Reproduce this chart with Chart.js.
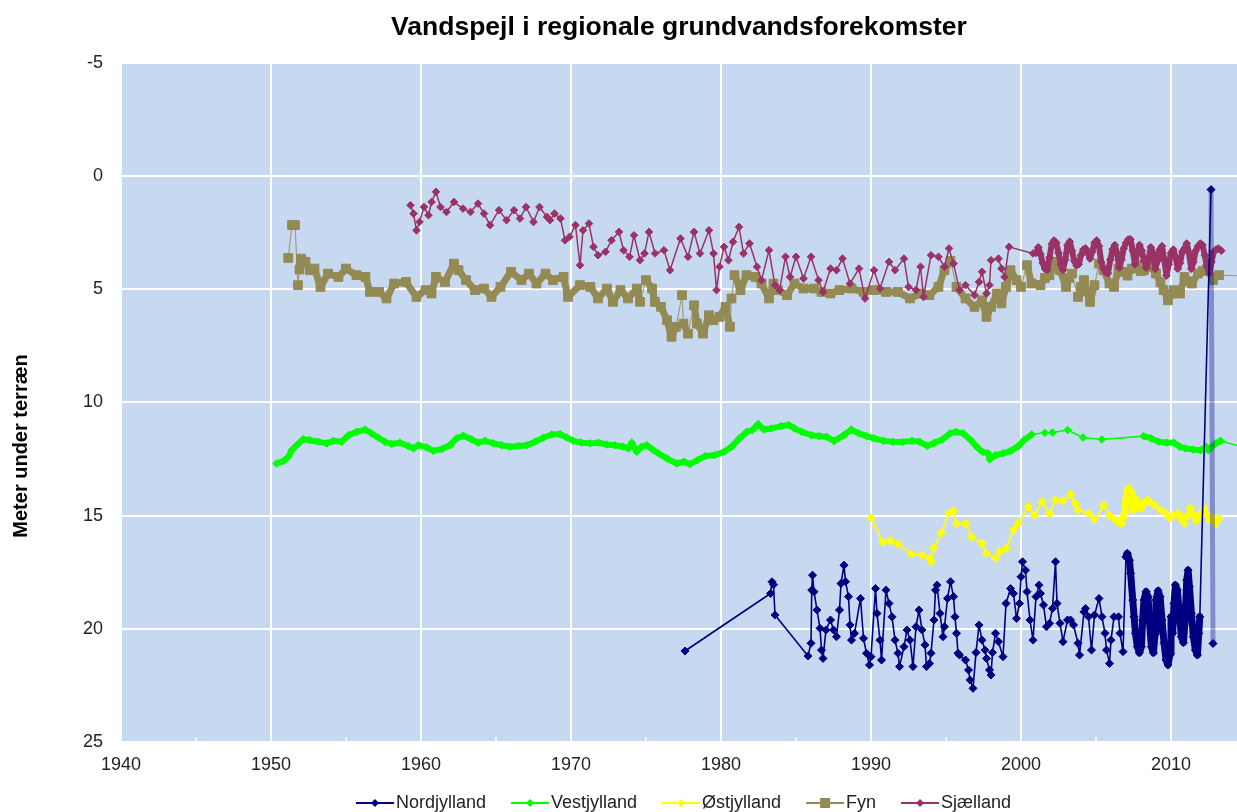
<!DOCTYPE html>
<html lang="da">
<head>
<meta charset="utf-8">
<title>Vandspejl i regionale grundvandsforekomster</title>
<script src="https://cdn.jsdelivr.net/npm/chart.js@4/dist/chart.umd.min.js"></script>
<style>
  html, body { margin: 0; padding: 0; background: #fff; overflow: hidden; }
  #wrap { width: 1237px; height: 812px; }
</style>
</head>
<body>
<div id="wrap"><canvas id="chart" width="1237" height="812"></canvas></div>
<script>
// Pejlinger: [år, meter under terræn]
const nordjylland = [
  [1977.6,20.98],[1983.3,18.44],[1983.4,17.92],[1983.5,18.05],[1983.6,19.39],[1985.8,21.20],[1986.0,20.64],[1986.05,18.29],
  [1986.1,17.63],[1986.2,18.36],[1986.4,19.17],[1986.6,19.98],[1986.7,20.94],[1986.8,21.31],[1987.0,20.05],[1987.3,19.61],
  [1987.5,20.05],[1987.7,20.35],[1987.9,19.17],[1988.0,18.00],[1988.2,17.19],[1988.3,17.92],[1988.5,18.58],[1988.6,19.83],
  [1988.7,20.50],[1988.9,20.20],[1989.3,18.66],[1989.5,20.42],[1989.7,21.08],[1989.9,21.60],[1990.0,21.23],[1990.3,18.22],
  [1990.4,19.32],[1990.6,20.50],[1990.7,21.38],[1991.0,18.29],[1991.2,18.88],[1991.4,19.47],[1991.6,20.50],[1991.8,21.08],
  [1991.9,21.67],[1992.2,20.79],[1992.4,20.05],[1992.6,20.50],[1992.8,21.67],[1993.0,19.91],[1993.2,19.17],[1993.4,20.05],
  [1993.6,20.71],[1993.7,21.67],[1993.9,21.53],[1994.0,21.08],[1994.2,19.61],[1994.3,18.29],[1994.4,18.07],[1994.6,19.32],
  [1994.8,20.35],[1994.9,19.91],[1995.1,18.66],[1995.3,17.92],[1995.5,18.58],[1995.6,19.47],[1995.7,20.20],[1995.8,21.08],
  [1995.9,21.16],[1996.3,21.38],[1996.5,21.82],[1996.6,22.26],[1996.8,22.63],[1997.0,21.05],[1997.2,19.83],[1997.4,20.50],
  [1997.6,20.94],[1997.7,21.31],[1997.9,21.82],[1998.0,22.04],[1998.1,21.05],[1998.3,20.20],[1998.5,20.57],[1998.8,21.23],
  [1999.0,18.88],[1999.3,18.22],[1999.5,18.44],[1999.7,19.54],[1999.9,18.88],[2000.0,17.70],[2000.1,17.04],[2000.3,17.41],
  [2000.4,18.36],[2000.6,19.61],[2000.8,20.50],[2001.0,18.58],[2001.2,18.07],[2001.3,18.44],[2001.5,18.95],[2001.7,19.91],
  [2001.9,19.76],[2002.1,19.10],[2002.3,17.04],[2002.4,18.88],[2002.6,19.76],[2002.8,20.57],[2003.1,19.61],[2003.3,19.61],
  [2003.5,19.83],[2003.8,20.64],[2003.9,21.16],[2004.2,19.25],[2004.3,19.10],[2004.5,19.47],[2004.7,20.94],[2004.9,19.39],
  [2005.2,18.66],[2005.4,19.47],[2005.6,20.20],[2005.7,20.94],[2005.9,21.53],[2006.0,20.50],[2006.2,19.47],[2006.5,19.47],
  [2006.6,20.20],[2006.8,21.01],
  [2007.00,16.82],[2007.09,16.67],[2007.23,16.97],[2007.31,17.55],[2007.45,18.73],[2007.54,19.47],[2007.63,20.20],[2007.76,20.79],
  [2007.89,21.06],[2008.03,20.79],[2008.11,19.61],[2008.20,18.73],[2008.34,18.36],[2008.47,18.58],[2008.56,19.61],[2008.69,20.79],
  [2008.83,21.06],[2008.94,20.20],[2009.00,18.73],[2009.14,18.32],[2009.27,18.58],[2009.40,19.61],[2009.54,20.64],[2009.67,21.38],
  [2009.80,21.60],[2009.94,21.09],[2010.00,19.47],[2010.11,20.20],[2010.20,18.88],[2010.29,18.07],[2010.42,18.29],[2010.56,19.32],
  [2010.69,20.35],[2010.83,20.61],[2010.94,19.61],[2011.05,17.85],[2011.14,17.41],[2011.23,18.14],[2011.36,19.32],[2011.49,20.35],
  [2011.63,20.94],[2011.76,21.16],[2011.85,20.20],[2011.92,19.47],[2012.67,0.60],[2012.80,20.65]
];

const vestjylland = [
  [1950.38,12.70],[1950.83,12.59],[1951.16,12.40],[1951.38,12.11],[1951.71,11.89],[1952.16,11.62],[1952.60,11.67],[1953.16,11.74],
  [1953.71,11.81],[1954.16,11.70],[1954.71,11.74],[1955.16,11.45],[1955.71,11.30],[1956.27,11.20],[1956.71,11.37],[1957.16,11.56],
  [1957.60,11.74],[1958.05,11.84],[1958.60,11.78],[1959.16,11.93],[1959.49,12.03],[1959.82,11.89],[1960.38,11.99],[1960.82,12.14],
  [1961.38,12.06],[1961.93,11.89],[1962.38,11.59],[1962.82,11.47],[1963.38,11.64],[1963.82,11.78],[1964.27,11.70],[1964.82,11.81],
  [1965.38,11.89],[1965.93,11.96],[1966.49,11.93],[1967.05,11.89],[1967.60,11.74],[1968.16,11.56],[1968.71,11.42],[1969.27,11.40],
  [1969.71,11.55],[1970.16,11.70],[1970.71,11.78],[1971.27,11.81],[1971.82,11.78],[1972.38,11.86],[1972.93,11.89],[1973.49,11.96],
  [1973.82,12.03],[1974.05,11.78],[1974.38,12.18],[1974.71,11.96],[1975.05,11.89],[1975.49,12.11],[1975.82,12.25],[1976.41,12.48],
  [1977.04,12.70],[1977.54,12.62],[1977.92,12.73],[1978.43,12.55],[1978.94,12.37],[1979.57,12.33],[1980.20,12.18],[1980.71,11.96],
  [1981.22,11.59],[1981.72,11.30],[1982.10,11.22],[1982.48,10.96],[1982.86,11.20],[1983.37,11.15],[1984.00,11.05],[1984.51,11.00],
  [1984.89,11.15],[1985.39,11.30],[1986.03,11.45],[1986.53,11.49],[1987.04,11.52],[1987.54,11.71],[1988.18,11.45],[1988.68,11.20],
  [1989.19,11.37],[1989.70,11.49],[1990.20,11.59],[1990.84,11.70],[1991.47,11.74],[1992.10,11.75],[1992.73,11.70],[1993.24,11.74],
  [1993.75,11.92],[1994.25,11.78],[1994.76,11.64],[1995.27,11.37],[1995.65,11.30],[1996.15,11.37],[1996.66,11.67],[1997.04,11.96],
  [1997.42,12.18],[1997.80,12.25],[1997.92,12.52],[1998.30,12.33],[1998.81,12.25],[1999.32,12.14],[1999.82,11.93],[2000.20,11.67],
  [2000.71,11.42],[2001.59,11.34],[2002.10,11.33],[2003.11,11.22],[2004.13,11.55],[2005.39,11.64],[2008.18,11.49],[2008.68,11.59],
  [2009.19,11.74],[2009.70,11.78],[2010.20,11.78],[2010.58,11.96],[2010.96,12.03],[2011.47,12.08],[2011.97,12.11],[2012.35,11.96],
  [2012.48,12.11],[2012.99,11.81],[2013.30,11.70],[2016.00,12.20]
];

const oestjylland = [
  [1990.0,15.10],[1990.8,16.18],[1991.3,16.11],[1991.8,16.26],[1992.7,16.70],[1993.4,16.74],[1993.9,16.89],[1994.0,17.04],
  [1994.2,16.42],[1994.7,15.76],[1995.2,14.88],[1995.5,14.79],[1995.7,15.35],[1996.3,15.35],[1996.7,15.94],[1997.4,16.23],
  [1997.7,16.67],[1998.3,16.89],[1998.6,16.60],[1999.0,16.45],[1999.5,15.64],[1999.8,15.35],[2000.5,14.61],[2000.9,14.98],
  [2001.4,14.39],[2001.9,14.90],[2002.3,14.32],[2002.8,14.35],[2003.3,14.07],[2003.6,14.46],[2003.8,14.76],[2004.5,14.90],
  [2004.9,15.17],[2005.5,14.54],[2005.9,14.98],[2006.3,15.20],[2006.5,15.30],[2006.7,15.35],[2006.8,15.10],[2006.9,14.90],
  [2007.0,14.30],[2007.1,13.85],[2007.2,13.80],[2007.3,13.95],[2007.4,14.02],[2007.5,14.76],[2007.6,14.50],[2007.7,14.32],
  [2007.8,14.55],[2007.9,14.60],[2008.0,14.68],[2008.2,14.45],[2008.4,14.32],[2008.6,14.40],[2008.9,14.54],[2009.3,14.75],
  [2009.7,14.90],[2009.9,15.12],[2010.2,15.00],[2010.5,14.90],[2010.7,15.15],[2010.9,15.35],[2011.1,15.00],[2011.3,14.68],
  [2011.5,15.00],[2011.7,15.20],[2011.9,14.95],[2012.2,14.68],[2012.4,14.95],[2012.6,15.20],[2012.8,15.10],[2013.0,15.35],
  [2013.2,15.12]
];

const fyn = [
  [1951.15,3.62],[1951.4,2.17],[1951.6,2.17],[1951.8,4.82],[1951.9,4.13],[1952.0,3.65],[1952.3,3.79],[1952.6,4.16],
  [1952.9,4.09],[1953.3,4.90],[1953.8,4.31],[1954.5,4.46],[1955.0,4.09],[1955.7,4.38],[1956.3,4.46],[1956.6,5.12],
  [1957.2,5.12],[1957.7,5.41],[1958.2,4.75],[1959.0,4.68],[1959.7,5.34],[1960.3,5.04],[1960.7,5.19],[1961.0,4.46],
  [1961.6,4.68],[1962.2,3.87],[1962.5,4.16],[1963.0,4.60],[1963.6,5.04],[1964.2,4.97],[1964.7,5.34],[1965.3,4.90],
  [1966.0,4.23],[1966.7,4.60],[1967.2,4.31],[1967.7,4.75],[1968.3,4.31],[1968.8,4.60],[1969.5,4.46],[1969.8,5.34],
  [1970.6,4.82],[1971.3,4.90],[1971.8,5.41],[1972.4,4.97],[1972.8,5.56],[1973.3,5.04],[1973.8,5.41],[1974.4,4.97],
  [1974.6,5.56],[1975.0,4.60],[1975.4,4.97],[1975.6,5.56],[1976.0,5.78],[1976.4,6.37],[1976.7,7.10],[1977.0,6.66],
  [1977.4,5.26],[1977.5,6.52],[1977.8,6.96],[1978.2,5.71],[1978.4,6.52],[1978.8,6.96],[1979.2,6.15],[1979.5,6.37],
  [1979.9,6.22],[1980.3,5.78],[1980.6,6.66],[1980.7,5.41],[1980.9,4.38],[1981.3,5.04],[1981.7,4.38],[1982.3,4.46],
  [1982.7,4.75],[1983.2,5.41],[1983.5,4.75],[1983.8,5.04],[1984.4,5.26],[1984.9,4.75],[1985.5,4.97],[1986.2,4.97],
  [1986.7,5.12],[1987.3,5.19],[1987.9,5.04],[1988.7,4.97],[1989.5,5.12],[1990.2,5.04],[1991.0,5.12],[1991.8,5.12],
  [1992.6,5.41],[1993.3,5.19],[1993.9,5.26],[1994.5,4.90],[1994.9,4.16],[1995.3,3.75],[1995.7,4.90],[1996.3,5.41],
  [1996.9,5.78],[1997.4,5.49],[1997.7,6.22],[1998.0,5.78],[1998.4,5.19],[1998.7,5.63],[1999.0,4.90],[1999.3,4.16],
  [1999.7,4.60],[2000.0,4.90],[2000.4,3.94],[2000.7,4.75],[2001.3,4.82],[2001.6,4.50],[2001.9,4.38],[2002.3,3.79],
  [2002.6,4.16],[2003.0,4.90],[2003.2,4.50],[2003.4,4.31],[2003.8,5.34],[2004.0,4.90],[2004.2,4.60],[2004.4,5.10],
  [2004.6,5.56],[2004.9,4.82],[2005.2,3.87],[2005.5,4.16],[2005.9,4.75],[2006.2,4.90],[2006.5,4.09],[2006.9,4.23],
  [2007.1,4.40],[2007.4,4.09],[2007.7,3.94],[2008.0,4.20],[2008.2,4.16],[2008.6,4.01],[2009.0,4.31],[2009.3,4.70],
  [2009.5,5.04],[2009.8,5.49],[2010.0,5.20],[2010.2,5.04],[2010.6,5.19],[2010.9,4.46],[2011.1,4.65],[2011.4,4.75],
  [2011.8,4.31],[2012.1,4.20],[2012.4,4.09],[2012.8,4.60],[2013.2,4.38],[2016.5,4.45]
];

const sjaelland = [
  [1959.3,1.29],[1959.5,1.66],[1959.7,2.40],[1959.9,2.03],[1960.2,1.37],[1960.5,1.73],[1960.7,1.15],[1961.0,0.70],
  [1961.3,1.37],[1961.7,1.59],[1962.2,1.15],[1962.8,1.44],[1963.3,1.59],[1963.8,1.22],[1964.2,1.66],[1964.6,2.17],
  [1965.2,1.51],[1965.7,1.95],[1966.2,1.51],[1966.6,1.88],[1967.0,1.37],[1967.5,2.03],[1967.9,1.37],[1968.4,1.81],
  [1968.6,1.95],[1968.9,1.66],[1969.3,1.88],[1969.6,2.84],[1969.9,2.69],[1970.3,2.17],[1970.6,3.94],[1970.8,2.40],
  [1971.2,2.10],[1971.5,3.13],[1971.8,3.50],[1972.3,3.35],[1972.7,2.84],[1973.2,2.47],[1973.5,3.28],[1973.9,3.57],
  [1974.2,2.62],[1974.6,3.72],[1974.9,3.42],[1975.2,2.47],[1975.6,3.42],[1976.2,3.28],[1976.6,4.16],[1977.3,2.76],
  [1977.8,3.57],[1978.2,2.47],[1978.6,3.42],[1979.2,2.40],[1979.5,3.42],[1979.7,5.04],[1979.9,4.01],[1980.2,3.13],
  [1980.5,3.72],[1980.8,2.91],[1981.2,2.25],[1981.5,3.42],[1981.9,2.98],[1982.4,4.01],[1982.7,4.60],[1983.2,3.28],
  [1983.6,4.82],[1983.9,5.04],[1984.3,3.57],[1984.6,4.46],[1985.0,3.57],[1985.5,4.53],[1986.0,3.57],[1986.5,4.60],
  [1986.8,5.12],[1987.3,4.09],[1987.7,4.16],[1988.1,3.65],[1988.6,4.75],[1989.2,4.09],[1989.6,5.41],[1990.2,4.16],
  [1990.6,4.97],[1991.2,3.79],[1991.6,4.16],[1992.2,3.65],[1992.5,4.90],[1993.0,5.04],[1993.3,4.01],[1993.5,5.34],
  [1994.0,3.50],[1994.5,3.57],[1994.9,4.01],[1995.2,3.20],[1995.5,3.87],[1995.9,5.04],[1996.3,4.82],[1996.9,5.26],
  [1997.2,4.68],[1997.4,4.23],[1997.7,5.19],[1997.9,4.82],[1998.0,3.72],[1998.5,3.65],[1998.7,4.09],[1998.9,4.46],
  [1999.2,3.13],[2000.8,3.42],
  [2001.0,3.40],[2001.15,3.15],[2001.3,3.45],[2001.45,3.85],[2001.6,4.10],[2001.75,4.15],[2001.9,3.60],[2002.05,3.00],
  [2002.2,2.85],[2002.35,2.95],[2002.5,3.40],[2002.65,3.90],[2002.8,4.15],[2002.95,3.70],[2003.1,3.05],[2003.25,2.90],
  [2003.4,3.30],[2003.55,3.75],[2003.7,3.95],[2003.85,3.90],[2004.0,3.50],[2004.15,3.25],[2004.3,3.20],[2004.45,3.40],
  [2004.6,3.65],[2004.75,3.35],[2004.9,2.95],[2005.05,2.85],[2005.2,3.10],[2005.35,3.80],[2005.5,4.10],[2005.65,4.25],
  [2005.8,4.30],[2005.95,3.70],[2006.1,3.25],[2006.25,3.05],[2006.4,3.40],[2006.55,4.05],[2006.7,3.70],[2006.85,3.20],
  [2007.0,2.95],[2007.15,2.80],[2007.3,2.80],[2007.45,3.30],[2007.6,3.90],[2007.75,3.40],[2007.9,3.05],[2008.05,3.30],
  [2008.2,3.75],[2008.35,4.05],[2008.5,3.70],[2008.65,3.15],[2008.8,3.40],[2008.95,4.10],[2009.1,3.75],[2009.25,3.25],
  [2009.4,3.10],[2009.55,3.70],[2009.7,4.40],[2009.85,3.90],[2010.0,3.40],[2010.15,3.25],[2010.3,3.55],[2010.45,4.10],
  [2010.6,3.85],[2010.75,3.35],[2010.9,3.20],[2011.05,2.98],[2011.2,3.40],[2011.35,4.10],[2011.5,3.80],[2011.65,3.30],
  [2011.8,3.10],[2011.95,2.98],[2012.1,3.05],[2012.25,3.50],[2012.4,4.00],[2012.55,4.30],[2012.7,3.80],[2012.85,3.35],
  [2013.0,3.25],[2013.15,3.20],[2013.35,3.30]
];

const yearTicks = { min: 1940, max: 2014.4, step: 10 };
const depthTicks = { min: -5, max: 25, step: 5 };
const chartTitle = 'Vandspejl i regionale grundvandsforekomster';
const depthTitle = 'Meter under terræn';
const FONT = '"Liberation Sans", Arial, Helvetica, sans-serif';

// Udseende for hver region. "bands" er perioder med tætte (logger-)målinger,
// hvor kurven tegnes som et tykt, sammenhængende bånd.
const regions = [
  { label: 'Nordjylland', rows: nordjylland, fill: '#000080', line: '#000080', shape: 'rectRot', r: 4.0, w: 1.6, order: 0,
    bands: [[2006.95, 2011.95]], bandWidth: 7, maxJump: 99, dropColor: 'rgba(0,0,128,0.35)' },
  { label: 'Vestjylland', rows: vestjylland, fill: '#00FF00', line: '#00FF00', shape: 'rectRot', r: 3.8, w: 1.6, order: 3,
    bands: [[1950.3, 2000.75], [2008.1, 2013.35]], bandWidth: 6, maxJump: 99 },
  { label: 'Østjylland', rows: oestjylland, fill: '#FFFF00', line: '#FFFF00', shape: 'rectRot', r: 4.2, w: 1.8, order: 2,
    bands: [[2006.75, 2008.1]], bandWidth: 7, maxJump: 99 },
  { label: 'Fyn', rows: fyn, fill: '#948A54', line: 'rgba(148,138,84,0.75)', shape: 'rect', r: 6.2, w: 1.2, order: 4,
    bands: [[1951.85, 2013.25]], bandWidth: 7, maxJump: 0.9, bandColor: '#948A54' },
  { label: 'Sjælland', rows: sjaelland, fill: '#993366', line: '#993366', shape: 'rectRot', r: 3.8, w: 1.5, order: 1,
    bands: [[2000.95, 2013.4]], bandWidth: 6, maxJump: 99 }
];

function inBand(reg, p0, p1) {
  return reg.bands.some(([a, b]) => p0.x >= a && p1.x <= b) && Math.abs(p1.y - p0.y) <= reg.maxJump;
}
// stort fald efter en enkeltstående top tegnes som en bred, lys streg
function isDrop(reg, p0, p1) {
  return !!reg.dropColor && p1.y - p0.y > 15;
}

// Symbol til forklaringen: linjestykke med markør i midten
function legendIcon(reg) {
  const c = document.createElement('canvas');
  c.width = 54; c.height = 14;
  const g = c.getContext('2d');
  g.strokeStyle = reg.fill; g.lineWidth = 2;
  g.beginPath(); g.moveTo(16, 7); g.lineTo(54, 7); g.stroke();
  g.fillStyle = reg.fill;
  if (reg.shape === 'rect') {
    g.fillRect(30, 2, 10, 10);
  } else {
    g.beginPath(); g.moveTo(35, 3); g.lineTo(39, 7); g.lineTo(35, 11); g.lineTo(31, 7); g.closePath(); g.fill();
  }
  return c;
}
const icons = regions.map(legendIcon);

const datasets = regions.map(reg => ({
  label: reg.label,
  data: reg.rows.map(([x, y]) => ({ x, y })),
  borderColor: reg.line,
  borderWidth: reg.w,
  borderJoinStyle: 'round',
  borderCapStyle: 'round',
  backgroundColor: reg.fill,
  pointStyle: reg.shape,
  pointRadius: reg.r,
  pointBorderWidth: 1,
  pointBackgroundColor: reg.fill,
  pointBorderColor: reg.fill,
  pointHoverRadius: reg.r,
  tension: 0,
  order: reg.order,
  segment: {
    borderWidth: ctx => isDrop(reg, ctx.p0.parsed, ctx.p1.parsed) ? 5
      : inBand(reg, ctx.p0.parsed, ctx.p1.parsed) ? reg.bandWidth : reg.w,
    borderColor: ctx => isDrop(reg, ctx.p0.parsed, ctx.p1.parsed) ? reg.dropColor
      : inBand(reg, ctx.p0.parsed, ctx.p1.parsed) ? (reg.bandColor || reg.line) : reg.line
  }
}));

const plotBackground = {
  id: 'plotBackground',
  beforeDraw(chart) {
    const { ctx, chartArea: a } = chart;
    ctx.save();
    ctx.fillStyle = '#C6D9F1';
    ctx.fillRect(a.left, a.top, a.right - a.left, a.bottom - a.top);
    ctx.restore();
  }
};

const minorTicks = {
  id: 'minorTicks',
  beforeDatasetsDraw(chart) {
    const sx = chart.scales.x, a = chart.chartArea, ctx = chart.ctx;
    ctx.save();
    ctx.strokeStyle = '#ffffff';
    ctx.lineWidth = 1.5;
    sx.ticks.forEach(t => {
      const px = sx.getPixelForValue(t.value + yearTicks.step / 2);
      if (px < a.right - 1) {
        ctx.beginPath(); ctx.moveTo(px, a.bottom); ctx.lineTo(px, a.bottom - 5); ctx.stroke();
      }
    });
    ctx.restore();
  }
};

const depthAxisTitle = {
  id: 'depthAxisTitle',
  afterDraw(chart) {
    const ctx = chart.ctx;
    ctx.save();
    ctx.translate(21, 446);
    ctx.rotate(-Math.PI / 2);
    ctx.font = 'bold 20px ' + FONT;
    ctx.fillStyle = '#000';
    ctx.textAlign = 'center';
    ctx.textBaseline = 'middle';
    ctx.fillText(depthTitle, 0, 0);
    ctx.restore();
  }
};

new Chart(document.getElementById('chart'), {
  type: 'line',
  data: { datasets },
  options: {
    responsive: false,
    animation: false,
    devicePixelRatio: 1,
    layout: { autoPadding: false, padding: { top: 0, left: 0, right: 0, bottom: -10 } },
    plugins: {
      title: {
        display: true,
        text: chartTitle,
        fullSize: false,
        color: '#000',
        font: { family: FONT, size: 26.5, weight: 'bold' },
        padding: { top: 12, bottom: 19 }
      },
      legend: {
        position: 'bottom',
        fullSize: false,
        labels: {
          usePointStyle: true,
          pointStyleWidth: 40,
          padding: 16,
          color: '#222',
          font: { family: FONT, size: 18 },
          sort: (a, b) => a.datasetIndex - b.datasetIndex,
          generateLabels(chart) {
            const items = Chart.defaults.plugins.legend.labels.generateLabels(chart);
            items.forEach(it => { it.pointStyle = icons[it.datasetIndex]; it.rotation = 0; });
            return items;
          }
        }
      },
      tooltip: { enabled: false }
    },
    scales: {
      x: {
        type: 'linear',
        min: yearTicks.min,
        max: yearTicks.max,
        border: { display: false },
        grid: { color: '#ffffff', lineWidth: 2, drawTicks: false },
        ticks: {
          stepSize: yearTicks.step,
          includeBounds: false,
          padding: 12,
          color: '#222',
          font: { family: FONT, size: 18 },
          callback: v => String(v)
        },
        afterFit(s) { s.height = 36; s.paddingLeft = 0; s.paddingRight = 0; }
      },
      y: {
        reverse: true,
        min: depthTicks.min,
        max: depthTicks.max,
        border: { display: false },
        grid: { color: '#ffffff', lineWidth: 2, drawTicks: false },
        ticks: {
          stepSize: depthTicks.step,
          padding: 18,
          color: '#222',
          font: { family: FONT, size: 18 }
        },
        afterFit(s) { s.width = 121; s.paddingTop = 0; s.paddingBottom = 0; }
      }
    }
  },
  plugins: [plotBackground, minorTicks, depthAxisTitle]
});
</script>
</body>
</html>
